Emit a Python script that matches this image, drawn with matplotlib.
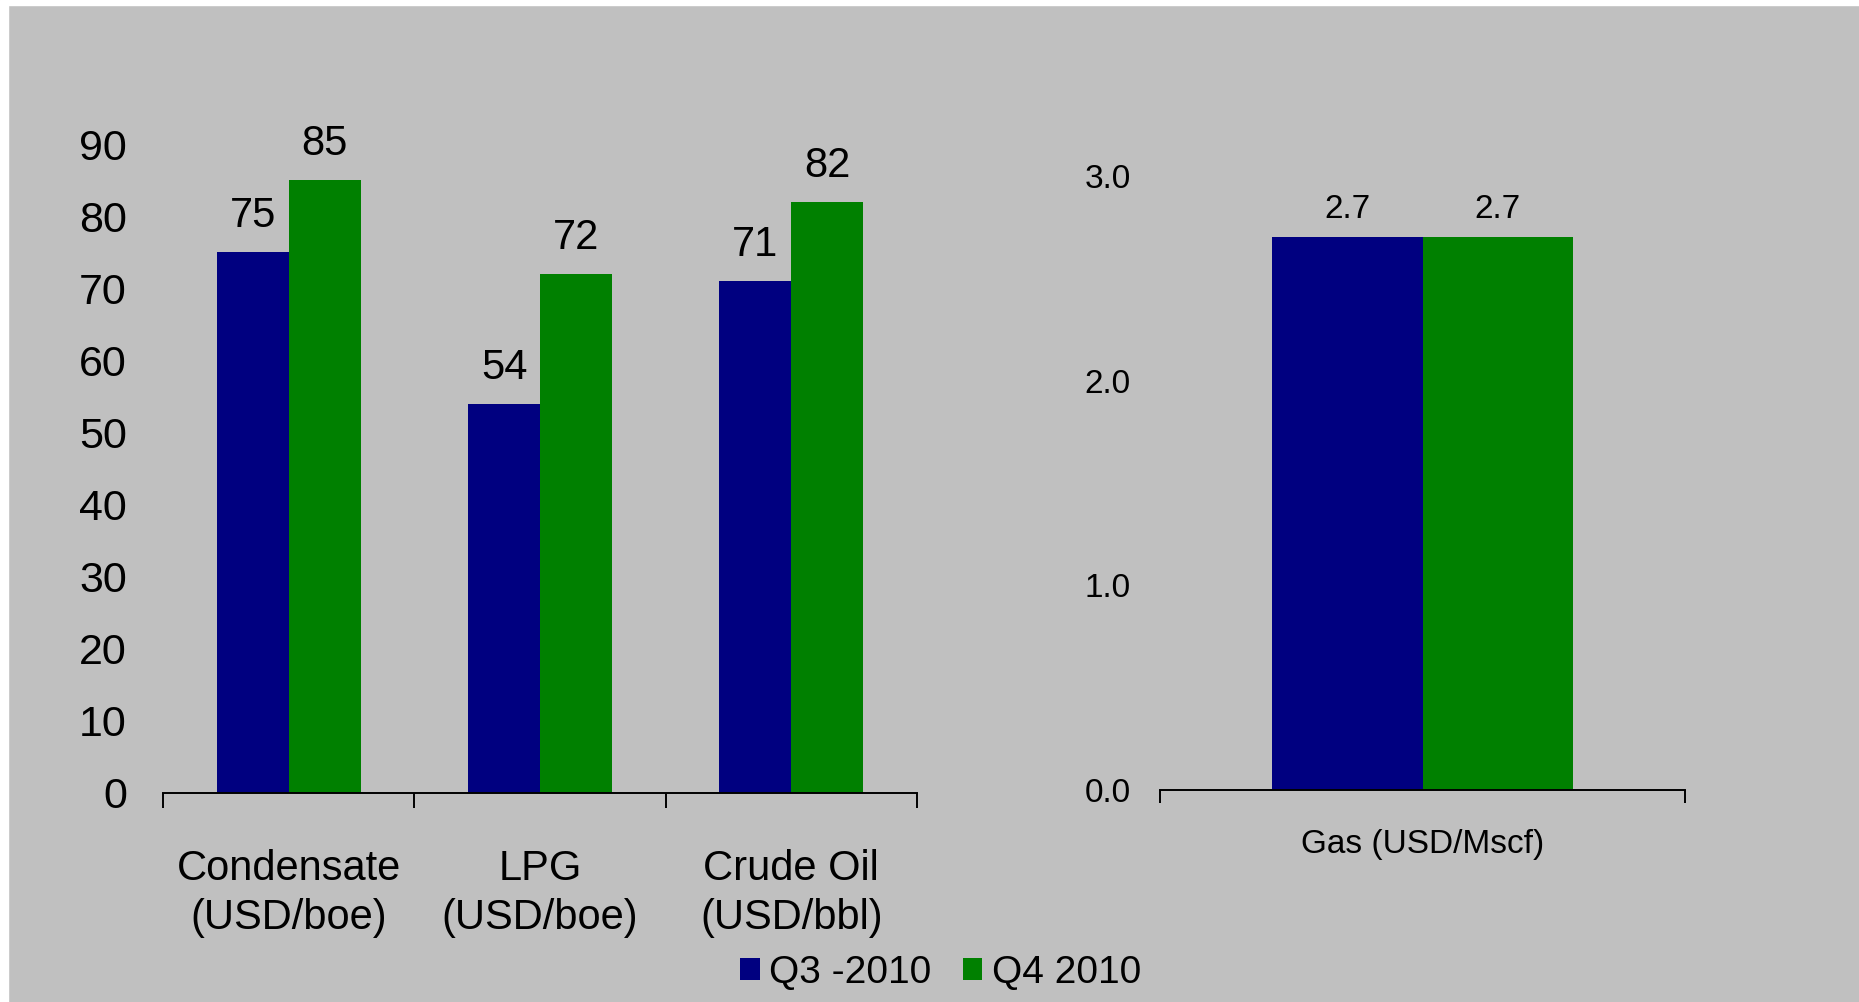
import matplotlib.pyplot as plt
import numpy as np
from matplotlib.patches import Rectangle

# liquids prices per quarter
categories = ["Condensate\n(USD/boe)", "LPG\n(USD/boe)", "Crude Oil\n(USD/bbl)"]
q3_2010 = [75, 54, 71]
q4_2010 = [85, 72, 82]

# gas price per quarter
gas_category = ["Gas (USD/Mscf)"]
gas_q3_2010 = [2.7]
gas_q4_2010 = [2.7]

series_names = ["Q3 -2010", "Q4 2010"]
navy = "#000080"
green = "#008000"
bg = "#C0C0C0"

plt.rcParams['font.family'] = ['Liberation Sans', 'DejaVu Sans']

fig = plt.figure(figsize=(18.59, 10.02), dpi=100, facecolor=bg)
# thin white strips along the top and left edge
fig.add_artist(Rectangle((0, 1 - 5 / 1002), 1, 5 / 1002, transform=fig.transFigure,
                         color="white", zorder=0))
fig.add_artist(Rectangle((0, 0), 8 / 1859, 1, transform=fig.transFigure,
                         color="white", zorder=0))

w = 0.286


def style_axis(ax, n, tick_size, label_size, ypad, xpad, minor_len):
    ax.set_facecolor("none")
    for side in ["left", "right", "top"]:
        ax.spines[side].set_visible(False)
    ax.spines["bottom"].set_linewidth(1.4)
    ax.set_xlim(-0.5, n - 0.5)
    ax.set_xticks(np.arange(n + 1) - 0.5, minor=True)
    ax.tick_params(axis="x", which="minor", length=minor_len, width=1.4, direction="out")
    ax.tick_params(axis="x", which="major", length=0, labelsize=label_size, pad=xpad)
    ax.tick_params(axis="y", length=0, labelsize=tick_size, pad=ypad)


# left panel: liquids
ax1 = fig.add_axes([163 / 1859, 1 - 793 / 1002, 754 / 1859, 649 / 1002])
x = np.arange(len(categories))
b1 = ax1.bar(x - w / 2, q3_2010, w, color=navy)
b2 = ax1.bar(x + w / 2, q4_2010, w, color=green)
ax1.set_ylim(0, 90)
ax1.set_yticks(range(0, 91, 10))
ax1.set_xticks(x)
ax1.set_xticklabels(categories, linespacing=1.3)
style_axis(ax1, len(categories), 31, 30, 26, 40, 11)
for bars, vals in [(b1, q3_2010), (b2, q4_2010)]:
    for bar, v in zip(bars, vals):
        ax1.annotate(str(v), (bar.get_x() + bar.get_width() / 2, v),
                     xytext=(0, 18), textcoords="offset points",
                     ha="center", va="baseline", fontsize=30, clip_on=False)

# right panel: gas
ax2 = fig.add_axes([1160 / 1859, 1 - 790 / 1002, 525 / 1859, 614 / 1002])
gx = np.arange(len(gas_category))
g1 = ax2.bar(gx - w / 2, gas_q3_2010, w, color=navy)
g2 = ax2.bar(gx + w / 2, gas_q4_2010, w, color=green)
ax2.set_ylim(0, 3.0)
ax2.set_yticks([0, 1, 2, 3])
ax2.set_yticklabels(["0.0", "1.0", "2.0", "3.0"])
ax2.set_xticks(gx)
ax2.set_xticklabels(gas_category)
style_axis(ax2, len(gas_category), 24, 24, 21, 28, 9)
for bars, vals in [(g1, gas_q3_2010), (g2, gas_q4_2010)]:
    for bar, v in zip(bars, vals):
        ax2.annotate(f"{v:.1f}", (bar.get_x() + bar.get_width() / 2, v),
                     xytext=(0, 14), textcoords="offset points",
                     ha="center", va="baseline", fontsize=24, clip_on=False)

fig.legend([b1, b2], series_names, loc="center", bbox_to_anchor=(0.506, 0.029),
           ncol=2, frameon=False, fontsize=28, handlelength=0.5, handleheight=0.5,
           handletextpad=0.25, columnspacing=0.8, borderpad=0)

plt.savefig("out.png", dpi=100, facecolor=bg)
